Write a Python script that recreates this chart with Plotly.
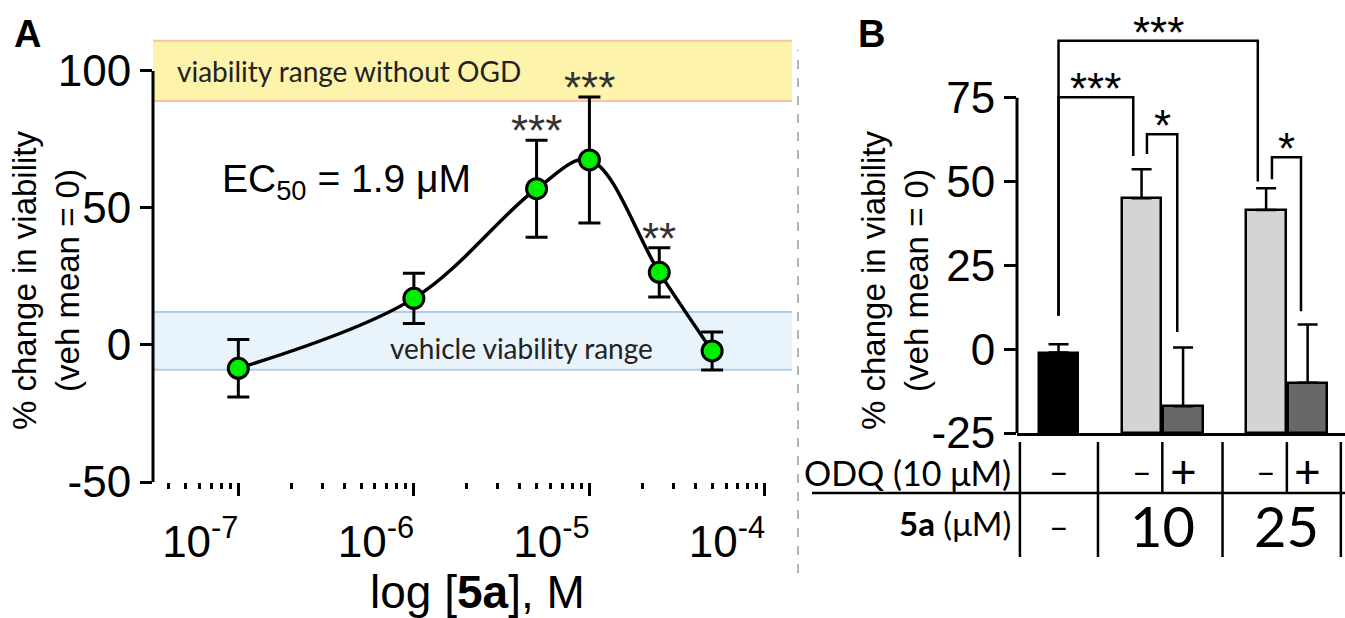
import math
import plotly.graph_objects as go

# ---------------- Panel A data ----------------
conc_M = [1e-7, 1e-6, 5e-6, 1e-5, 2.5e-5, 5e-5]
viab_mean = [-8.5, 17.0, 57.0, 67.5, 26.5, -2.2]
viab_sem = [10.5, 9.2, 17.7, 23.0, 9.0, 6.9]
sig_A = ["", "", "***", "***", "**", ""]
decades = [1e-7, 1e-6, 1e-5, 1e-4]
decade_labels = ["10<sup>-7</sup>", "10<sup>-6</sup>", "10<sup>-5</sup>", "10<sup>-4</sup>"]
yticks_A = [-50, 0, 50, 100]
yticklabels_A = ["-50", "0", "50", "100"]
ogd_range = [89, 111]
veh_range = [-9, 12]

# ---------------- Panel B data ----------------
bar_pos = [0, 2, 3, 5, 6]
bar_vals = [-1.0, 45.0, -17.0, 41.5, -10.0]
bar_err = [2.5, 8.7, 17.5, 6.5, 17.4]
bar_colors = ["#000000", "#d4d4d4", "#686868", "#d4d4d4", "#686868"]
odq_labels = ["–", "–", "+", "–", "+"]
group_labels = ["–", "10", "25"]
group_members = [[0], [2, 3], [5, 6]]
yticks_B = [-25, 0, 25, 50, 75]
yticklabels_B = ["-25", "0", "25", "50", "75"]
# brackets: x_left, x_right, y_left_end, y_right_end, y_top, label
brackets = [
    (0.0, 4.8, 10.0, 50.0, 92.0, "***"),
    (0.0, 1.8, 10.0, 57.6, 75.2, "***"),
    (2.13, 2.86, 58.2, 5.1, 64.1, "*"),
    (5.14, 5.84, 50.7, 11.3, 57.3, "*"),
]

ARIAL = "Arial, Liberation Sans, sans-serif"
CAL = "Lato, Open Sans, sans-serif"

W, H = 1345, 618
xA_range = [-7.486, -3.846]
yA_range = [-50, 112]
xB_range = [-1.0, 6.9]
yB_range = [-25, 100]
baseB = yB_range[0]

fig = go.Figure()

# Panel A curve + points
fig.add_trace(go.Scatter(
    x=conc_M, y=viab_mean, mode="lines+markers",
    line=dict(color="black", width=3.5, shape="spline", smoothing=1.0),
    marker=dict(size=20, color="#00ee00", line=dict(color="black", width=3)),
    error_y=dict(type="data", array=viab_sem, color="black", thickness=3, width=11),
    xaxis="x", yaxis="y", showlegend=False, hoverinfo="skip"))

# Panel B bars
fig.add_trace(go.Bar(
    x=bar_pos, y=[v - baseB for v in bar_vals], base=baseB, width=0.95,
    marker=dict(color=bar_colors, line=dict(color="black", width=2.5)),
    error_y=dict(type="data", symmetric=False, array=bar_err,
                 arrayminus=[0] * len(bar_err), color="black", thickness=2.5, width=10),
    xaxis="x2", yaxis="y2", showlegend=False, hoverinfo="skip"))

minor_vals = []
for k in range(4, 10):
    minor_vals.append(1e-8 * k)
for d in decades[:-1]:
    for k in range(2, 10):
        minor_vals.append(d * k)

tickfont = dict(family=ARIAL, size=44, color="black")

fig.update_layout(
    template="none",
    width=W, height=H, margin=dict(l=0, r=0, t=0, b=0, autoexpand=False),
    paper_bgcolor="white", plot_bgcolor="white", bargap=0,
    xaxis=dict(type="log", range=xA_range, domain=[153 / W, 792 / W], anchor="y",
               automargin=False,
               showgrid=False, zeroline=False, showline=False,
               tickmode="array", tickvals=decades, ticktext=decade_labels,
               ticks="outside", ticklen=13, tickwidth=3, tickcolor="black",
               tickfont=tickfont, ticklabelshift=-38, ticklabelstandoff=8,
               minor=dict(tickvals=minor_vals, ticks="outside", ticklen=6,
                          tickwidth=2.5, tickcolor="black", showgrid=False)),
    yaxis=dict(range=yA_range, domain=[1 - 482 / H, 1 - 38 / H], anchor="x",
               automargin=False,
               showgrid=False, zeroline=False, showline=False,
               tickmode="array", tickvals=yticks_A, ticktext=yticklabels_A,
               ticks="outside", ticklen=12, tickwidth=3, tickcolor="black",
               tickfont=tickfont),
    xaxis2=dict(range=xB_range, domain=[1017 / W, 1.0], anchor="y2",
                automargin=False,
                showgrid=False, zeroline=False, showline=True, linecolor="black",
                linewidth=3, showticklabels=False, ticks=""),
    yaxis2=dict(range=yB_range, domain=[1 - 433 / H, 1 - 14 / H], anchor="x2",
                automargin=False,
                showgrid=False, zeroline=False, showline=False,
                tickmode="array", tickvals=yticks_B, ticktext=yticklabels_B,
                ticks="outside", ticklen=12, tickwidth=3, tickcolor="black",
                tickfont=tickfont),
)

shapes = []
# bands in panel A
shapes.append(dict(type="rect", xref="x domain", yref="y", x0=0, x1=1,
                   y0=ogd_range[0], y1=ogd_range[1], fillcolor="#fdf3aa",
                   line=dict(width=0), layer="below"))
for yv in ogd_range:
    shapes.append(dict(type="line", xref="x domain", yref="y", x0=0, x1=1,
                       y0=yv, y1=yv, line=dict(color="#f7c2a6", width=2), layer="below"))
shapes.append(dict(type="rect", xref="x domain", yref="y", x0=0, x1=1,
                   y0=veh_range[0], y1=veh_range[1], fillcolor="#e8f3fb",
                   line=dict(width=0), layer="below"))
for yv in veh_range:
    shapes.append(dict(type="line", xref="x domain", yref="y", x0=0, x1=1,
                       y0=yv, y1=yv, line=dict(color="#aecde9", width=2), layer="below"))
# axis lines panel A
shapes.append(dict(type="line", xref="x domain", yref="y", x0=0, x1=0,
                   y0=yticks_A[0], y1=yticks_A[-1], line=dict(color="black", width=3)))
shapes.append(dict(type="line", xref="x", yref="y", x0=xA_range[0],
                   x1=math.log10(decades[-1]), y0=yA_range[0], y1=yA_range[0],
                   line=dict(color="black", width=3)))
# axis line panel B
shapes.append(dict(type="line", xref="x2 domain", yref="y2", x0=0, x1=0,
                   y0=yticks_B[0], y1=yticks_B[-1], line=dict(color="black", width=3)))
# separator
shapes.append(dict(type="line", xref="paper", yref="paper", x0=798 / W, x1=798 / W,
                   y0=1 - 573 / H, y1=1 - 50 / H,
                   line=dict(color="#b5b5b5", width=2, dash="dash")))
# brackets
for xl, xr, yl, yr, yt, lab in brackets:
    shapes.append(dict(type="path", xref="x2", yref="y2",
                       path=f"M {xl},{yl} L {xl},{yt} L {xr},{yt} L {xr},{yr}",
                       line=dict(color="black", width=2.5)))
# table lines
row_top, row_mid, row_bot = 1 - 442 / H, 1 - 493 / H, 1 - 557 / H
shapes.append(dict(type="line", xref="paper", yref="paper", x0=812 / W, x1=1.0,
                   y0=row_mid, y1=row_mid, line=dict(color="black", width=2.5)))
group_bounds = [-0.93] + [members[-1] + 0.95 if i < len(group_members) - 1 else members[-1] + 0.8
                          for i, members in enumerate(group_members)]
for gb in group_bounds:
    shapes.append(dict(type="line", xref="x2", yref="paper", x0=gb, x1=gb,
                       y0=row_bot, y1=row_top, line=dict(color="black", width=2.5)))
for members in group_members:
    if len(members) > 1:
        mid = (members[0] + members[1]) / 2
        shapes.append(dict(type="line", xref="x2", yref="paper", x0=mid, x1=mid,
                           y0=row_mid, y1=row_top, line=dict(color="black", width=2.5)))

annotations = []


def ann(**kw):
    kw.setdefault("showarrow", False)
    kw.setdefault("xanchor", "center")
    kw.setdefault("yanchor", "middle")
    annotations.append(kw)


# stars panel A
for c, m, e, s in zip(conc_M, viab_mean, viab_sem, sig_A):
    if s:
        ann(x=math.log10(c), y=m + e, xref="x", yref="y", text=s,
            yanchor="bottom", yshift=-17,
            font=dict(family=ARIAL, size=44, color="#333333"))
for xl, xr, yl, yr, yt, lab in brackets:
    ann(x=(xl + xr) / 2, y=yt, xref="x2", yref="y2", text=lab,
        yanchor="bottom", yshift=-18,
        font=dict(family=ARIAL, size=44, color="black"))
# band labels
ann(x=175 / W, y=100, xref="paper", yref="y", xanchor="left",
    text="viability range without OGD",
    font=dict(family=CAL, size=28, color="#222222"))
ann(x=521 / W, y=-1, xref="paper", yref="y",
    text="vehicle viability range",
    font=dict(family=CAL, size=28, color="#222222"))
ann(x=220 / W, y=1 - 182 / H, xref="paper", yref="paper", xanchor="left",
    text="EC<sub>50</sub> = 1.9 μM",
    font=dict(family=ARIAL, size=39, color="black"))
# axis titles
ytitle = "% change in viability<br>(veh mean = 0)"
ann(x=46 / W, y=1 - 281 / H, xref="paper", yref="paper", text=ytitle, textangle=-90,
    font=dict(family=ARIAL, size=33, color="black"))
ann(x=895 / W, y=1 - 281 / H, xref="paper", yref="paper", text=ytitle, textangle=-90,
    font=dict(family=ARIAL, size=33, color="black"))
ann(x=477 / W, y=1 - 592 / H, xref="paper", yref="paper",
    text="log [<b>5a</b>], M",
    font=dict(family=ARIAL, size=46, color="black"))
# panel letters
ann(x=12 / W, y=1 - 34 / H, xref="paper", yref="paper", xanchor="left",
    text="<b>A</b>", font=dict(family=ARIAL, size=38, color="black"))
ann(x=856 / W, y=1 - 34 / H, xref="paper", yref="paper", xanchor="left",
    text="<b>B</b>", font=dict(family=ARIAL, size=38, color="black"))
# table
ann(x=1013 / W, y=1 - 472 / H, xref="paper", yref="paper", xanchor="right",
    text="ODQ (10 μM)", font=dict(family=CAL, size=34, color="black"))
ann(x=1013 / W, y=1 - 523 / H, xref="paper", yref="paper", xanchor="right",
    text="<b>5a</b> (μM)", font=dict(family=CAL, size=33, color="black"))
for p, lab in zip(bar_pos, odq_labels):
    ann(x=p, y=1 - 470 / H, xref="x2", yref="paper", text=lab,
        font=dict(family=CAL, size=46 if lab == "+" else 34, color="black"))
for members, lab in zip(group_members, group_labels):
    ann(x=sum(members) / len(members), y=1 - 525 / H, xref="x2", yref="paper", text=lab,
        font=dict(family=CAL, size=34 if lab == "–" else 56, color="black"))

fig.update_layout(shapes=shapes, annotations=annotations)
fig.write_html("out.html", config={"displayModeBar": False},
               post_script="document.body.style.margin='0';document.body.style.overflow='hidden';")
